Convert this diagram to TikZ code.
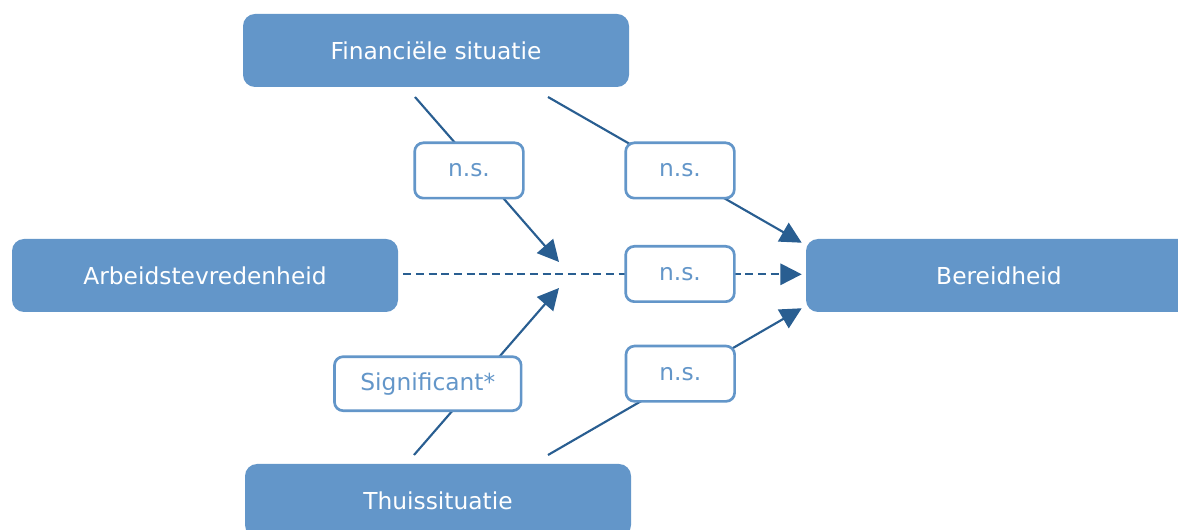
\documentclass[tikz,border=0pt]{standalone}
\usepackage{fontspec}
\setmainfont{DejaVu Sans}
\usepackage{xcolor}
\usetikzlibrary{arrows.meta}
\definecolor{boxblue}{RGB}{99,150,201}
\definecolor{lineblue}{RGB}{41,94,145}
\tikzset{
    factor/.style={rectangle, rounded corners=9pt, fill=boxblue, text=white,
        minimum width=289.5pt, minimum height=54.75pt, font=\fontsize{17.5}{21}\selectfont},
    result/.style={rectangle, rounded corners=6.5pt, draw=boxblue, line width=2pt, fill=white,
        text=boxblue, minimum width=81.5pt, minimum height=41.5pt, font=\fontsize{17.5}{21}\selectfont},
    link/.style={draw=lineblue, line width=1.6pt, -{Triangle[length=16pt,width=16pt]}}
}

\begin{document}
\begin{tikzpicture}[x=0.75pt,y=-0.75pt]
    \clip (0,0) rectangle (1178,530);
    \node[factor] (fin) at (436,50.5) {Financiële situatie};
    \node[factor] (arb) at (205,275.5) {Arbeidstevredenheid};
    \node[factor] (ber) at (999,275.5) {Bereidheid};
    \node[factor] (thuis) at (438,500.5) {Thuissituatie};
    \coordinate (fin1) at (415,97);
    \coordinate (fin2) at (548,97);
    \coordinate (thuis1) at (414,455);
    \coordinate (thuis2) at (548,455);
    \coordinate (mod1) at (559,262);
    \coordinate (mod2) at (559,288);
    \draw[link] (fin1) -- (mod1);
    \draw[link] (thuis1) -- (mod2);
    \draw[link] (fin2) -- ([shift={(-4,4)}]ber.north west);
    \draw[link] (thuis2) -- ([shift={(-4,-4)}]ber.south west);
    \draw[link, dash pattern=on 6pt off 3.5pt, shorten <=3.75pt, shorten >=3pt] (arb.east |- 0,274.3) -- (ber.west |- 0,274.3);
    \node[result] (ns1) at (469,170.5) {n.s.};
    \node[result] (ns2) at (680,170.5) {n.s.};
    \node[result] (ns3) at (680,274) {n.s.};
    \node[result] (ns4) at (680.3,373.7) {n.s.};
    \node[result, minimum width=140pt, minimum height=40.5pt] (sig) at (427.8,383.7) {Significant*};
\end{tikzpicture}
\end{document}
